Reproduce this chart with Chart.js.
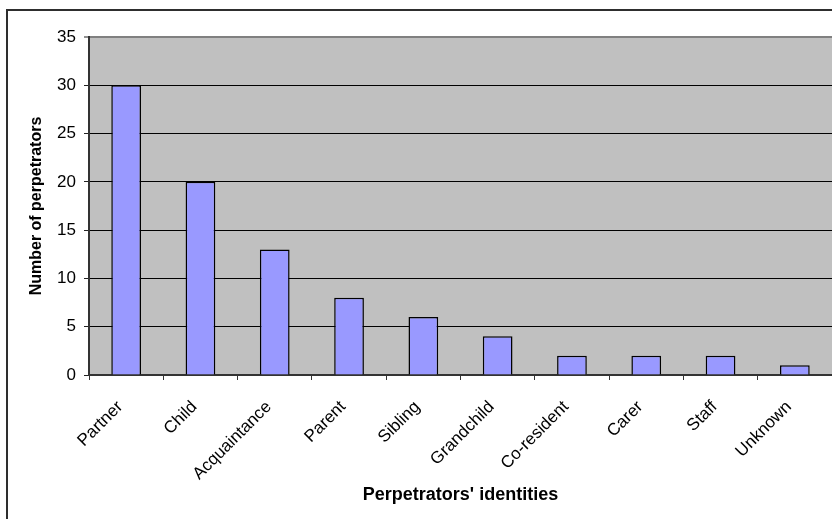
<!DOCTYPE html>
<html>
<head>
<meta charset="utf-8">
<title>Perpetrators' identities</title>
<script src="https://cdn.jsdelivr.net/npm/chart.js@4/dist/chart.umd.min.js"></script>
<style>
  html, body { margin: 0; padding: 0; background: #ffffff; }
  #wrap { width: 832px; height: 519px; overflow: hidden; }
</style>
</head>
<body>
<div id="wrap"><canvas id="chart" width="832" height="519"></canvas></div>
<script>
// Number of perpetrators by their relationship to the victim
const categories = ['Partner', 'Child', 'Acquaintance', 'Parent', 'Sibling',
                    'Grandchild', 'Co-resident', 'Carer', 'Staff', 'Unknown'];
const perpetrators = [30, 20, 13, 8, 6, 4, 2, 2, 2, 1];
const yTicks = [0, 5, 10, 15, 20, 25, 30, 35];

const FONT = '"Liberation Sans", Arial, Helvetica, sans-serif';

// Grey plot area plus the chart frame on the left and top
const backdrop = {
  id: 'backdrop',
  beforeDraw(chart) {
    const { ctx, chartArea: a } = chart;
    ctx.save();
    ctx.fillStyle = '#ffffff';
    ctx.fillRect(0, 0, chart.width, chart.height);
    ctx.fillStyle = '#c0c0c0';
    ctx.fillRect(a.left, a.top, a.right - a.left, a.bottom - a.top);
    ctx.strokeStyle = '#2e2e2e';
    ctx.lineWidth = 2;
    ctx.beginPath();
    ctx.moveTo(7, chart.height + 2);
    ctx.lineTo(7, 10);
    ctx.lineTo(chart.width + 2, 10);
    ctx.stroke();
    ctx.restore();
  }
};

new Chart(document.getElementById('chart'), {
  type: 'bar',
  data: {
    labels: categories,
    datasets: [{
      label: 'Number of perpetrators',
      data: perpetrators,
      backgroundColor: '#9999ff',
      borderColor: '#000000',
      borderWidth: 1.5,
      categoryPercentage: 1.0,
      barPercentage: 0.4
    }]
  },
  options: {
    responsive: false,
    animation: false,
    devicePixelRatio: 1,
    layout: { padding: { top: 37, left: 0, right: 0, bottom: 0 } },
    plugins: {
      legend: { display: false },
      tooltip: { enabled: false }
    },
    scales: {
      x: {
        afterFit(scale) { scale.height = 144; },
        grid: {
          display: true,
          offset: true,
          drawOnChartArea: false,
          drawTicks: true,
          tickLength: 5,
          tickColor: '#333333',
          tickWidth: 1
        },
        border: { display: true, color: '#333333', width: 2 },
        ticks: {
          autoSkip: false,
          minRotation: 45,
          maxRotation: 45,
          padding: 17,
          labelOffset: -6,
          color: '#000000',
          font: { family: FONT, size: 17 }
        },
        title: {
          display: true,
          text: "Perpetrators' identities",
          color: '#000000',
          font: { family: FONT, size: 18, weight: 'bold' },
          padding: { top: 0, bottom: 13 }
        }
      },
      y: {
        min: 0,
        max: 35,
        afterFit(scale) { scale.width = 89; },
        afterBuildTicks(scale) { scale.ticks = yTicks.map(v => ({ value: v })); },
        grid: {
          drawTicks: true,
          tickLength: 5,
          tickColor: '#222222',
          tickWidth: 1,
          color: (c) => c.tick && c.tick.value === 35 ? '#808080' : (c.tick && c.tick.value === 0 ? '#333333' : '#000000'),
          lineWidth: (c) => c.tick && c.tick.value === 35 ? 2 : 1
        },
        border: { display: true, color: '#333333', width: 2 },
        ticks: {
          padding: 8,
          color: '#000000',
          font: { family: FONT, size: 17 }
        },
        title: {
          display: true,
          text: 'Number of perpetrators',
          color: '#000000',
          font: { family: FONT, size: 16, weight: 'bold' },
          padding: { top: 27, bottom: 0 }
        }
      }
    }
  },
  plugins: [backdrop]
});
</script>
</body>
</html>
